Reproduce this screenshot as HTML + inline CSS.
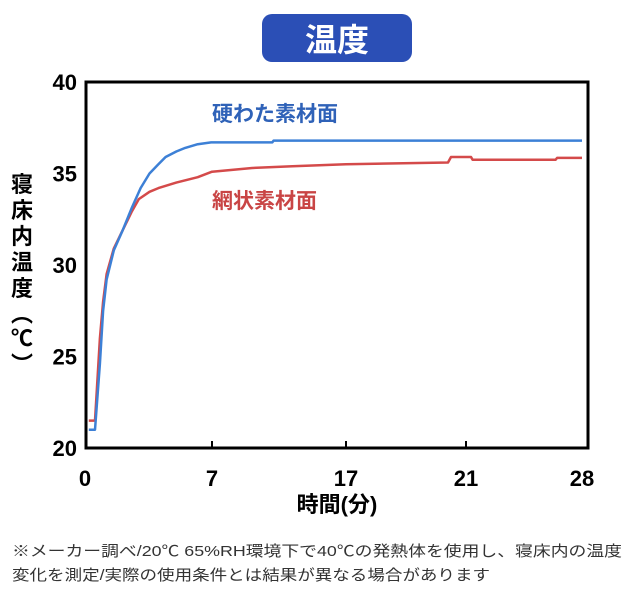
<!DOCTYPE html>
<html><head><meta charset="utf-8"><style>
body{margin:0;width:640px;height:600px;background:#fff;overflow:hidden;font-family:"Liberation Sans","Noto Sans CJK JP",sans-serif;}
</style></head><body>
<svg width="640" height="600" xmlns="http://www.w3.org/2000/svg" font-family="Liberation Sans, Noto Sans CJK JP, sans-serif" id="chart">
<rect x="262" y="14" width="150" height="48" rx="10" fill="#2b4fb6"/>
<text x="337" y="51" text-anchor="middle" font-size="32" font-weight="bold" fill="#fff">温度</text>
<rect x="86" y="82" width="502" height="366" fill="none" stroke="#000" stroke-width="3"/>
<g id="ticks"></g>
<g id="lines"></g>
<text x="212" y="121" font-size="21" font-weight="bold" fill="#2f62b8">硬わた素材面</text>
<text x="212" y="208" font-size="21" font-weight="bold" fill="#c94545">網状素材面</text>
<text font-size="22" font-weight="bold" fill="#000">
<tspan x="22" y="192" text-anchor="middle">寝</tspan><tspan x="22" y="218" text-anchor="middle">床</tspan><tspan x="22" y="244" text-anchor="middle">内</tspan><tspan x="22" y="270" text-anchor="middle">温</tspan><tspan x="22" y="296" text-anchor="middle">度</tspan><tspan x="22" y="322" text-anchor="middle">︵</tspan><tspan x="22" y="346" text-anchor="middle">℃</tspan><tspan x="22" y="372" text-anchor="middle">︶</tspan>
</text>
<text x="337" y="512" text-anchor="middle" font-size="22" font-weight="bold">時間(分)</text>
<text x="12" y="556" font-size="15" fill="#333" textLength="610" lengthAdjust="spacingAndGlyphs">※メーカー調べ/20℃ 65%RH環境下で40℃の発熱体を使用し、寝床内の温度</text>
<text x="12" y="580" font-size="15" fill="#333" textLength="478" lengthAdjust="spacingAndGlyphs">変化を測定/実際の使用条件とは結果が異なる場合があります</text>
</svg>
<script>
const xTicks=[0,7,17,21,28];
const yTicks=[20,25,30,35,40];
const blueX=[0.1,0.45,0.72,0.9,1.1,1.5,2.0,2.5,3.0,3.5,4.0,4.4,5.0,5.5,6.2,6.95,11.5,11.6,28];
const blueY=[21.0,21.0,24.6,27.5,29.2,30.8,31.9,33.1,34.2,35.0,35.5,35.9,36.2,36.4,36.6,36.7,36.7,36.8,36.8];
const redX=[0.1,0.45,0.72,0.9,1.1,1.5,2.0,2.5,2.9,3.5,4.0,5.0,6.2,7.0,10,13,17,20.4,20.5,21.3,21.4,26.4,26.5,28];
const redY=[21.5,21.5,26.0,28.0,29.5,30.9,31.9,32.9,33.6,34.0,34.2,34.5,34.8,35.1,35.3,35.4,35.5,35.6,35.9,35.9,35.75,35.75,35.85,35.85];
const NS="http://www.w3.org/2000/svg";
const xPix=[87,212,346,466,582];
function xs(v){for(let i=0;i<xTicks.length-1;i++){if(v<=xTicks[i+1]||i==xTicks.length-2){return xPix[i]+(v-xTicks[i])/(xTicks[i+1]-xTicks[i])*(xPix[i+1]-xPix[i]);}}}
function ys(v){return 448-(v-20)*(366/20);}
const tg=document.getElementById('ticks');
xTicks.forEach((t,i)=>{
 const tx=document.createElementNS(NS,'text');
 tx.setAttribute('x',xs(t)+(i==0?-2:0));tx.setAttribute('y',486);tx.setAttribute('text-anchor','middle');
 tx.setAttribute('font-size','22');tx.setAttribute('font-weight','bold');tx.textContent=t;
 
 
 tg.appendChild(tx);
 if(i>0&&i<xTicks.length-1){const l=document.createElementNS(NS,'line');
 l.setAttribute('x1',xs(t));l.setAttribute('x2',xs(t));l.setAttribute('y1',441);l.setAttribute('y2',448);l.setAttribute('stroke','#000');l.setAttribute('stroke-width','2');
 
 
 tg.appendChild(l);}
});
yTicks.forEach(t=>{
 const tx=document.createElementNS(NS,'text');
 tx.setAttribute('x',77);tx.setAttribute('y',ys(t)+8);tx.setAttribute('text-anchor','end');
 tx.setAttribute('font-size','22');tx.setAttribute('font-weight','bold');tx.textContent=t;
 
 
 tg.appendChild(tx);
});
const lg=document.getElementById('lines');
function line(X,Y,c,name){
 const p=document.createElementNS(NS,'polyline');
 p.setAttribute('points',X.map((x,i)=>xs(x).toFixed(1)+','+ys(Y[i]).toFixed(1)).join(' '));
 p.setAttribute('fill','none');p.setAttribute('stroke',c);p.setAttribute('stroke-width','2.5');p.setAttribute('stroke-linejoin','round');
 
 
 lg.appendChild(p);
}
line(redX,redY,'#d44a4a','series-mesh-line');
line(blueX,blueY,'#3d80d6','series-hard-cotton-line');
</script>
</body></html>
